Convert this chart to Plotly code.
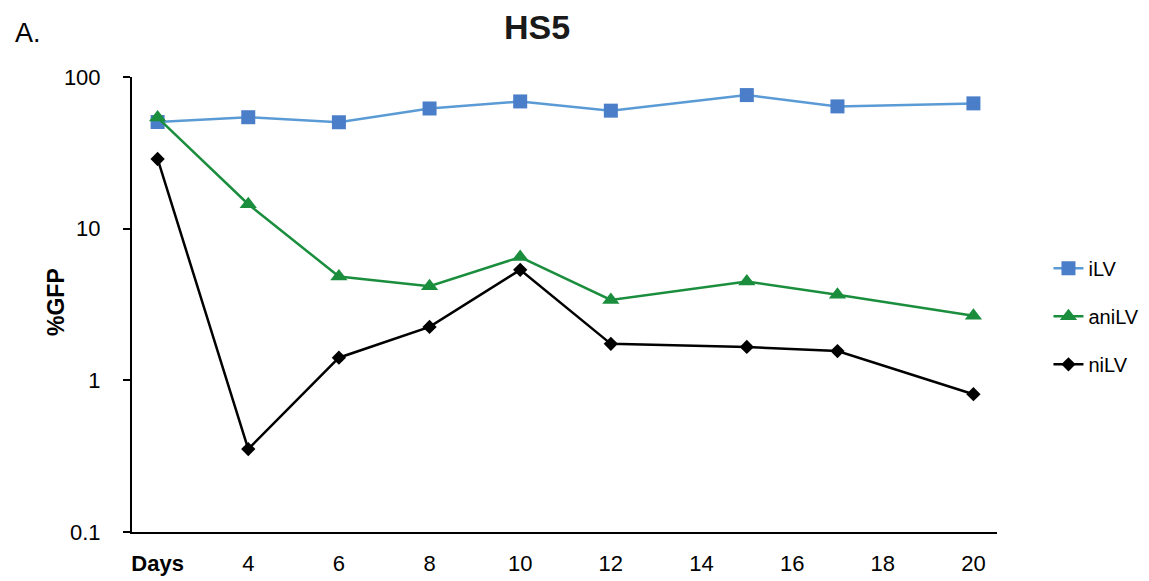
import plotly.graph_objects as go

days = [2, 4, 6, 8, 10, 12, 15, 17, 20]
ilv = [50.5, 54.3, 50.3, 62, 69, 60, 76, 64, 67]
anilv = [54, 14.5, 4.83, 4.17, 6.5, 3.39, 4.48, 3.67, 2.67]
nilv = [28.8, 0.352, 1.41, 2.25, 5.35, 1.74, 1.66, 1.56, 0.81]

x_tickvals = [2, 4, 6, 8, 10, 12, 14, 16, 18, 20]
x_ticktext = ["<b>Days</b>", "4", "6", "8", "10", "12", "14", "16", "18", "20"]
y_tickvals = [0.1, 1, 10, 100]
y_ticktext = ["0.1", "1", "10", "100"]

FONT = "Liberation Sans, Arial, sans-serif"

fig = go.Figure()
fig.add_trace(go.Scatter(
    x=days, y=ilv, name="iLV", mode="lines+markers", legendgroup="a",
    line=dict(color="#5B9BD5", width=2.5),
    marker=dict(symbol="square", size=14, color="#4A7EC8"),
))
fig.add_trace(go.Scatter(
    x=days, y=anilv, name="aniLV", mode="lines+markers", legendgroup="b",
    line=dict(color="#1B8E3E", width=2.5),
    marker=dict(symbol="triangle-up", size=15, color="#1B8E3E"),
))
fig.add_trace(go.Scatter(
    x=days, y=nilv, name="niLV", mode="lines+markers", legendgroup="c",
    line=dict(color="#000000", width=2.5),
    marker=dict(symbol="diamond", size=11, color="#000000"),
))

fig.update_layout(
    width=1149, height=581,
    margin=dict(l=132, r=152, t=77, b=49, autoexpand=False),
    paper_bgcolor="white", plot_bgcolor="white",
    font=dict(family=FONT, color="black", size=20),
    title=dict(text="<b>HS5</b>", x=537 / 1149, xref="container", xanchor="center",
               y=1 - 27 / 581, yref="container", yanchor="middle",
               font=dict(size=34, family=FONT, color="#1a1a1a")),
    showlegend=True,
    legend=dict(x=1.0595, xanchor="left", y=0.474, yanchor="middle",
                font=dict(size=20, family=FONT), tracegroupgap=19,
                bgcolor="rgba(0,0,0,0)"),
    xaxis=dict(range=[1.435, 20.52], tickmode="array", tickvals=x_tickvals,
               ticktext=x_ticktext, showline=True, linecolor="black", linewidth=2,
               ticks="", showgrid=False, zeroline=False, automargin=False,
               tickfont=dict(size=22, family=FONT), ticklabelstandoff=11),
    yaxis=dict(type="log", range=[-1, 2], tickmode="array", tickvals=y_tickvals,
               ticktext=y_ticktext, showline=True, linecolor="black", linewidth=2,
               ticks="outside", ticklen=7, tickwidth=2, tickcolor="black",
               showgrid=False, zeroline=False, automargin=False,
               tickfont=dict(size=22, family=FONT), ticklabelstandoff=18),
    annotations=[
        dict(text="<b>%GFP</b>", x=(56 - 132) / 865, y=(532 - 302) / 455,
             xref="paper", yref="paper", textangle=-90, showarrow=False,
             xanchor="center", yanchor="middle", font=dict(size=23, family=FONT)),
        dict(text="A.", x=(28 - 132) / 865, y=(532 - 33) / 455,
             xref="paper", yref="paper",
             showarrow=False, xanchor="center", yanchor="middle",
             font=dict(size=27, family=FONT)),
    ],
)

fig.write_html("out.html")
